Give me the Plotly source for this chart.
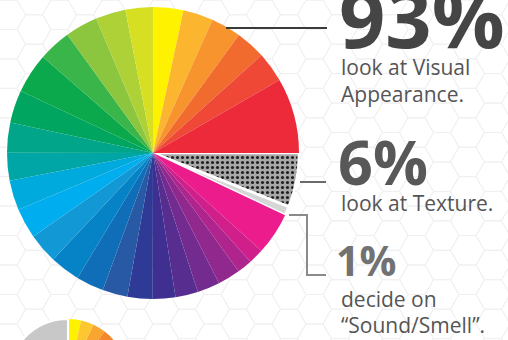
import math
import plotly.graph_objects as go

# ---- data -------------------------------------------------------------
# Shares (in %) of the three ways people judge a product
texture_share = 6
sound_smell_share = 1
# Visual appearance (93 %) is drawn as a colour wheel; each wedge's share, going
# clockwise from the "Sound/Smell" slice round to the top of the red wedge
wheel_colors = [
    "#ec1c8c", "#d01f8b", "#b0248d", "#91288e", "#742b8f", "#582d90", "#3f2f90",
    "#2e3a96", "#2859a5", "#0f6eb7", "#0583c6", "#1298d5", "#00adef", "#00aadd",
    "#00a6a6", "#00a58a", "#00a65f", "#0ba94c", "#3ab54a", "#8cc63f", "#add136",
    "#d7df23", "#fff200", "#fbb52e", "#f7942d", "#f26b2e", "#ef4836", "#ec2a3a",
]
wheel_shares = [
    4.69, 1.67, 1.67, 2.50, 2.50, 2.50, 2.50,
    2.78, 2.78, 3.06, 3.33, 3.33, 3.33, 3.33,
    3.06, 3.33, 3.61, 4.44, 3.61, 3.61, 3.33,
    3.06, 3.33, 3.33, 3.33, 3.33, 3.33, 8.33,
]
headline_labels = ["93%", "6%", "1%"]
caption_lines = [
    ["look at Visual", "Appearance."],
    ["look at Texture."],
    ["decide on", "\u201cSound/Smell\u201d."],
]

# Next chart in the column (only its top edge shows)
next_colors = ["#fff200", "#fdc82f", "#f9a531", "#f5862a", "#f16a2d", "#ed3a36",
               "#2bb673", "#1a9ad7", "#92278f", "#c8c8c8"]
next_shares = [3.5, 3.5, 3.5, 3.5, 3.5, 10, 14, 14, 19, 25.5]

# ---- page geometry (pixels) -------------------------------------------
W, H = 508, 445

fig = go.Figure()

# faint honeycomb backdrop
R = 17.0
hx, hy = [], []
dx, dy = 1.5 * R, math.sqrt(3) * R
col = 0
cx = -R
while cx < W + R:
    off = 0 if col % 2 == 0 else dy / 2
    cy = -dy + off
    while cy < H + dy:
        for k in range(7):
            a = math.radians(60 * k)
            hx.append(cx + R * math.cos(a))
            hy.append(cy + R * math.sin(a))
        hx.append(None)
        hy.append(None)
        cy += dy
    cx += dx
    col += 1
fig.add_trace(go.Scatter(x=hx, y=hy, mode="lines",
                         line=dict(color="#f0f0f0", width=1),
                         hoverinfo="skip", showlegend=False))

# main pie: centre (153,153), radius 146
pcx, pcy, pr = 153, 153, 146
main_values = [texture_share, sound_smell_share] + wheel_shares
main_colors = ["#a8a8a8", "#d6d6d6"] + wheel_colors
n_wheel = len(wheel_shares)
fig.add_trace(go.Pie(
    values=main_values,
    sort=False,
    direction="clockwise",
    rotation=90,
    textinfo="none",
    hoverinfo="skip",
    showlegend=False,
    marker=dict(
        colors=main_colors,
        line=dict(color="white", width=[2.5, 2.5] + [0] * n_wheel),
        pattern=dict(shape=["."] + [""] * (n_wheel + 1),
                     fgcolor="#202020", bgcolor=main_colors,
                     size=5, solidity=0.3, fillmode="replace"),
    ),
    domain=dict(x=[(pcx - pr) / W, (pcx + pr) / W],
                y=[(H - pcy - pr) / H, (H - pcy + pr) / H]),
))

# partial pie of the next section
ncx, ncy, nr = 68, 379, 60
fig.add_trace(go.Pie(
    values=next_shares,
    sort=False,
    direction="clockwise",
    rotation=0,
    textinfo="none",
    hoverinfo="skip",
    showlegend=False,
    marker=dict(colors=next_colors,
                line=dict(color="white", width=[0] * 9 + [2])),
    domain=dict(x=[(ncx - nr) / W, (ncx + nr) / W],
                y=[(H - ncy - nr) / H, (H - ncy + nr) / H]),
))

# connector lines
lines = [
    (dict(type="line", x0=226, y0=28, x1=327, y1=28), "#3a3a3a"),
    (dict(type="line", x0=300, y0=182, x1=326, y1=182), "#6a6a6a"),
    (dict(type="path", path="M 289 215 L 307 215 L 307 275 L 326 275"), "#8a8a8a"),
]
for spec, colr in lines:
    fig.add_shape(xref="x", yref="y", line=dict(color=colr, width=2),
                  layer="above", **spec)

FONT = "Open Sans"


def put(text, x, baseline, size, color, bold=False):
    # vertical middle of the text box sits ~0.388 em above the baseline
    fig.add_annotation(
        x=x, y=baseline - 0.388 * size, xref="x", yref="y",
        text=f"<b>{text}</b>" if bold else text,
        showarrow=False, xanchor="left", yanchor="middle",
        font=dict(family=FONT, size=size, color=color),
        borderpad=0,
    )


put(headline_labels[0], 338, 48, 81, "#454545", bold=True)
put(caption_lines[0][0], 340, 75, 21, "#555555")
put(caption_lines[0][1], 340, 102, 21, "#555555")

put(headline_labels[1], 337, 185, 61, "#585858", bold=True)
put(caption_lines[1][0], 340, 211, 21, "#555555")

put(headline_labels[2], 335, 276, 41, "#727272", bold=True)
put(caption_lines[2][0], 340, 307, 21, "#555555")
put(caption_lines[2][1], 340, 333, 21, "#555555")

fig.update_xaxes(range=[0, W], visible=False, fixedrange=True)
fig.update_yaxes(range=[H, 0], visible=False, fixedrange=True)
fig.update_layout(
    width=W, height=H,
    margin=dict(l=0, r=0, t=0, b=0),
    paper_bgcolor="white", plot_bgcolor="white",
    xaxis=dict(domain=[0, 1]), yaxis=dict(domain=[0, 1]),
)

fig.write_html(
    "out.html",
    config={"displayModeBar": False},
    post_script="document.documentElement.style.overflow='hidden';"
                "document.body.style.overflow='hidden';"
                "document.body.style.margin='0';",
)
